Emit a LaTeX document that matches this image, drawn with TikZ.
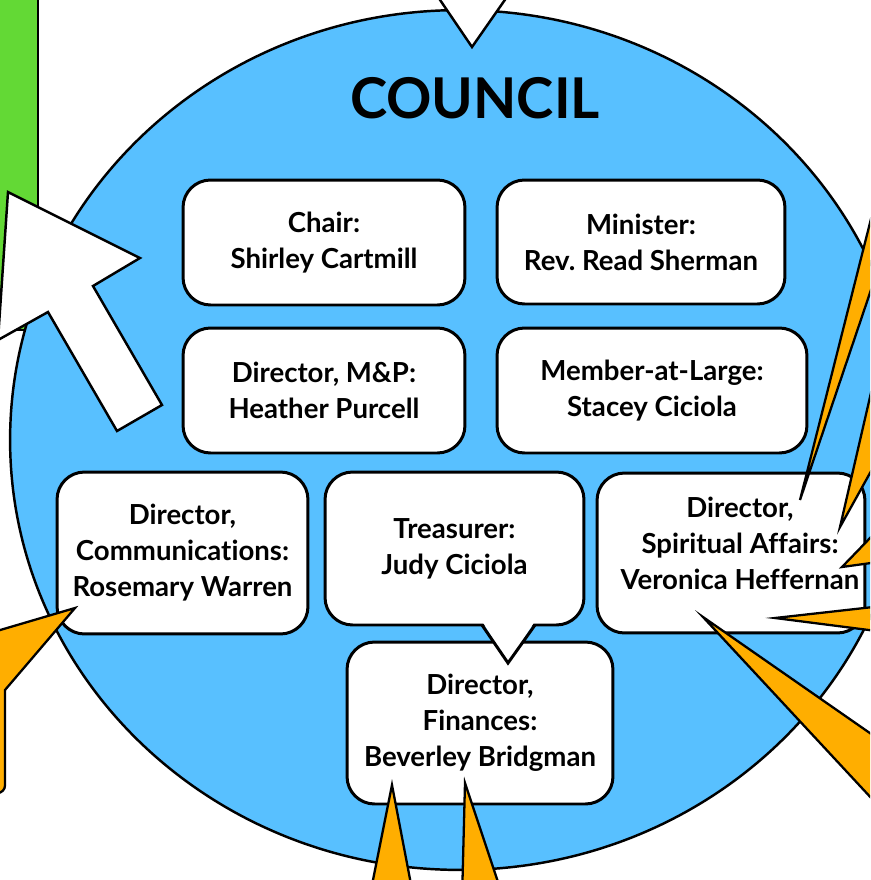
\documentclass[tikz,border=0pt]{standalone}
\usepackage{fontspec}
\setmainfont{Lato}[Ligatures=NoCommon]
\usetikzlibrary{positioning}

\definecolor{councilblue}{HTML}{58C0FF}
\definecolor{leafgreen}{HTML}{63D935}
\definecolor{sparkorange}{HTML}{FFAE00}
\newcommand{\namefont}{\fontsize{15.7}{20.5}\selectfont\bfseries}
\frenchspacing

\begin{document}
\begin{tikzpicture}[x=0.02cm, y=-0.02cm,
  box/.style={draw=black, fill=white, line width=1.7pt, rounded corners=0.55cm, align=center, font=\namefont},
  spike/.style={draw=black, fill=sparkorange, line width=1.3pt, line join=miter},
  blank/.style={draw=black, fill=white, line width=1.4pt, line join=miter}]
\useasboundingbox (0,0) rectangle (870,880);
\clip (0,0) rectangle (870,880);
\fill[white] (0,0) rectangle (870,880);

% Green bar (left edge)
\filldraw[fill=leafgreen, draw=black, line width=1.4pt] (-10,-10) rectangle (38,330);

% Council disc
\filldraw[fill=councilblue, draw=black, line width=1.4pt] (460,440) ellipse [x radius=9cm, y radius=8.6cm];

% White arrow and top notch
\filldraw[blank] (8,192) -- (140,258) -- (93,286) -- (162,405) -- (117,431) -- (48,312) -- (-2,340) -- cycle;
\filldraw[blank] (436,-6) -- (472,47) -- (509,-6) -- cycle;

% Title
\node[anchor=base, font=\fontsize{32}{38}\selectfont\bfseries] (title) at (475,118) {COUNCIL};

% Top rows
\node[box, minimum width=5.64cm, minimum height=2.5cm] (chair) at (324,242.5) {Chair:\\Shirley Cartmill};
\node[box, minimum width=5.76cm, minimum height=2.48cm] (minister) at (641,242) {Minister:\\Rev. Read Sherman};
\node[box, minimum width=5.64cm, minimum height=2.5cm] (mandp) at (324,390.5) {Director, M\&P:\\Heather Purcell};
\node[box, minimum width=6.2cm, minimum height=2.5cm] (member) at (652,390.5) {Member-at-Large:\\Stacey Ciciola};

% Lower rows
\node[box, minimum width=5.02cm, minimum height=3.24cm] (comms) at (182.5,553) {Director,\\Communications:\\Rosemary Warren};
\node[box, minimum width=5.32cm, minimum height=3.24cm] (finances) at (480,723) {Director,\\Finances:\\Beverley Bridgman};
\node[box, minimum width=5.18cm, minimum height=3.06cm] (treasurer) at (454.5,548.5) {Treasurer:\\Judy Ciciola};
\node[box, minimum width=5.36cm, minimum height=3.2cm] (spiritual) at (731,553) {};
\node[align=center, font=\namefont] (spiritualtext) at (740,543) {Director,\\Spiritual Affairs:\\Veronica Heffernan};

% Treasurer tail
\fill[white] (482,621) -- (508,663) -- (535,621) -- cycle;
\draw[line width=1.7pt, line join=miter] (482,625) -- (508,663) -- (535,625);

% Orange spikes
\filldraw[spike] (800,500) -- (900,104) -- (900,204) -- cycle;
\filldraw[spike] (840,527) -- (900,267) -- (900,419) -- cycle;
\filldraw[spike] (842,567) -- (900,507) -- (900,559) -- cycle;
\filldraw[spike] (775,618) -- (900,604) -- (900,634) -- cycle;
\filldraw[spike] (703,617) -- (900,754) -- (900,829) -- cycle;
\filldraw[spike] (392,785) -- (369,900) -- (414,900) -- cycle;
\filldraw[spike] (465,783) -- (462,900) -- (504,900) -- cycle;
\filldraw[spike] (75,608) -- (-10,633) -- (-10,793) [rounded corners=0.15cm] -- (5,793) [sharp corners] -- (5,690) -- cycle;

\end{tikzpicture}
\end{document}
